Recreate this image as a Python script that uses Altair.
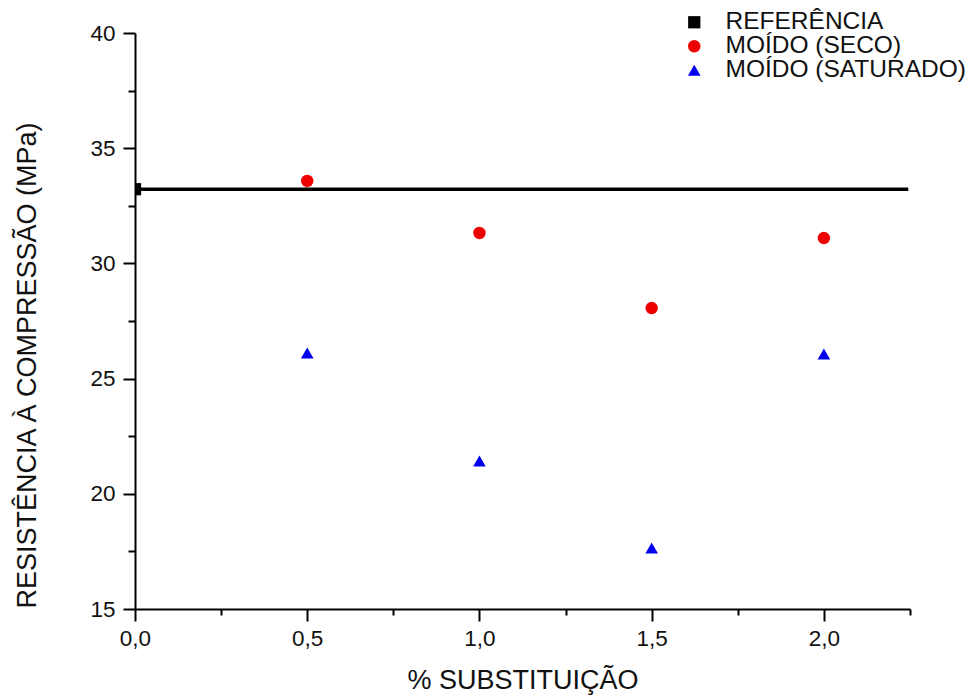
import altair as alt
import pandas as pd

series_names = ["REFERÊNCIA", "MOÍDO (SECO)", "MOÍDO (SATURADO)"]
ref_x = [0.0]
ref_y = [33.22]
seco_x = [0.5, 1.0, 1.5, 2.0]
seco_y = [33.58, 31.32, 28.06, 31.10]
sat_x = [0.5, 1.0, 1.5, 2.0]
sat_y = [26.11, 21.42, 17.65, 26.07]
ref_line_x = [0.0, 2.245]
x_ticks = [0, 0.25, 0.5, 0.75, 1.0, 1.25, 1.5, 1.75, 2.0, 2.25]
y_ticks = [15, 17.5, 20, 22.5, 25, 27.5, 30, 32.5, 35, 37.5, 40]

FONT = "Liberation Sans"

pts = pd.DataFrame(
    {"x": ref_x + seco_x + sat_x,
     "y": ref_y + seco_y + sat_y,
     "s": [series_names[0]] * len(ref_x) + [series_names[1]] * len(seco_x) + [series_names[2]] * len(sat_x)}
)
line_df = pd.DataFrame({"x": [ref_line_x[0]], "x2": [ref_line_x[1]], "y": ref_y})

xscale = alt.Scale(domain=[0, 2.25], nice=False, zero=False)
yscale = alt.Scale(domain=[15, 40], nice=False, zero=False)

xaxis = alt.Axis(
    values=x_ticks, title="% SUBSTITUIÇÃO", grid=False,
    labelExpr="(round(datum.value*100) % 50 == 0) ? replace(format(datum.value, '.1f'), '.', ',') : ''",
    labelFontSize=22.5, titleFontSize=27, labelFont=FONT, titleFont=FONT, titleFontWeight="normal",
    labelColor="#111", titleColor="#111", domainColor="black", tickColor="black",
    domainWidth=2, tickWidth=2,
    tickSize={"condition": {"test": "round(datum.value*100) % 50 == 0", "value": 12}, "value": 6},
    labelPadding=6, titlePadding=18,
    labelFlush=False, labelOverlap=False,
)
yaxis = alt.Axis(
    values=y_ticks, title="RESISTÊNCIA À COMPRESSÃO (MPa)", grid=False,
    labelExpr="(datum.value % 5 == 0) ? format(datum.value, 'd') : ''",
    labelFontSize=22.5, titleFontSize=27, labelFont=FONT, titleFont=FONT, titleFontWeight="normal",
    labelColor="#111", titleColor="#111", domainColor="black", tickColor="black",
    domainWidth=2, tickWidth=2,
    tickSize={"condition": {"test": "datum.value % 5 == 0", "value": 12}, "value": 7},
    labelPadding=8, titlePadding=48, titleY=332,
    labelFlush=False, labelOverlap=False,
)

rule = alt.Chart(line_df).mark_rule(color="black", strokeWidth=3.5).encode(
    x=alt.X("x:Q", scale=xscale, axis=xaxis),
    x2="x2:Q",
    y=alt.Y("y:Q", scale=yscale, axis=yaxis),
)

points = alt.Chart(pts).mark_point(filled=True, opacity=1, clip=True).encode(
    x=alt.X("x:Q", scale=xscale, axis=xaxis),
    y=alt.Y("y:Q", scale=yscale, axis=yaxis),
    color=alt.Color("s:N", scale=alt.Scale(domain=series_names, range=["black", "#ee0000", "#0000ee"]),
                    legend=alt.Legend(title=None, orient="none", legendX=547, legendY=-23,
                                      labelFontSize=24.5, labelFont=FONT, labelColor="#111",
                                      labelLimit=400, rowPadding=-3, labelOffset=19)),
    shape=alt.Shape("s:N", scale=alt.Scale(domain=series_names, range=["square", "circle", "triangle-up"])),
    size=alt.Size("s:N", scale=alt.Scale(domain=series_names, range=[150, 160, 250])),
)

chart = alt.layer(rule, points).properties(
    width=775, height=576,
    autosize=alt.AutoSizeParams(type="none"),
    padding={"left": 127, "top": 25, "right": 55, "bottom": 91},
).configure_view(stroke=None)

chart.save("out.html", embed_options={"renderer": "svg", "actions": False})
